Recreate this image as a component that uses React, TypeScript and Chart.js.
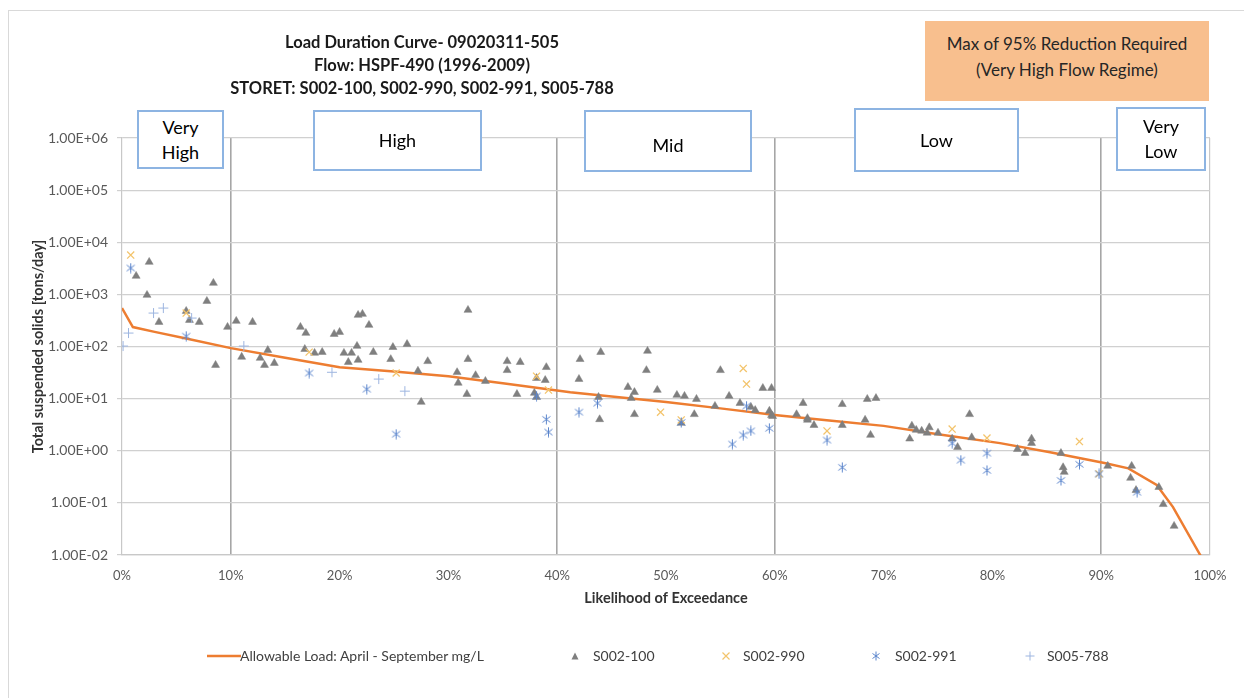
import React, { useEffect, useRef } from "react";
import { Chart, registerables } from "chart.js";

Chart.register(...registerables);

const FONT = "Lato, 'Open Sans', 'DejaVu Sans', sans-serif";

// ---------- Text ----------
const titleLines = [
  "Load Duration Curve- 09020311-505",
  "Flow: HSPF-490 (1996-2009)",
  "STORET: S002-100, S002-990, S002-991, S005-788",
];
const noteLines = ["Max of 95% Reduction Required", "(Very High Flow Regime)"];
const xAxisTitle = "Likelihood of Exceedance";
const yAxisTitle = "Total suspended solids [tons/day]";
const seriesNames = [
  "Allowable Load: April - September mg/L",
  "S002-100",
  "S002-990",
  "S002-991",
  "S005-788",
];

// ---------- Ticks ----------
const xTickValues = [0, 10, 20, 30, 40, 50, 60, 70, 80, 90, 100];
const yTickValues = [1e-2, 1e-1, 1, 1e1, 1e2, 1e3, 1e4, 1e5, 1e6];
const zoneBounds = [10, 40, 60, 90];

// ---------- Allowable load curve ----------
const lineX = [0, 1.0, 3, 6, 10, 15, 20, 25, 30, 35, 41.2, 45, 50, 55, 60.2, 65, 70, 75, 80.7, 85.3, 90.3, 92.5, 95.1, 96.6, 99.1, 99.5];
const lineY = [546, 236, 191, 141, 93, 61, 40, 33, 27, 19.8, 13.3, 11.0, 8.6, 6.5, 4.8, 3.8, 3.0, 2.08, 1.4, 0.94, 0.58, 0.46, 0.22, 0.083, 0.01, 0.007];

// ---------- S002-100 (triangles) ----------
const s100X = [
  1.3, 2.5, 2.3, 3.4, 5.9, 6.2, 7.1, 7.8, 8.4, 8.6, 9.7, 10.5, 11.0, 12.0, 12.7, 13.1, 13.4, 14.0,
  16.4, 16.9, 16.8, 17.7, 18.4, 19.5, 20.0, 20.4, 20.8, 21.1, 21.6, 21.7, 21.7, 22.1, 22.7, 23.1,
  24.7, 24.9, 26.2, 27.2, 27.5, 28.1, 30.8, 30.9, 31.7, 31.8, 31.8, 32.5, 33.4, 35.4, 35.4, 36.3,
  36.6, 37.9, 38.1, 38.1, 38.9, 39.0, 42.0, 42.1, 43.8, 43.9, 44.0, 46.5, 46.8, 47.1, 47.1, 48.2,
  48.3, 49.2, 51.0, 51.4, 51.7, 52.6, 52.8, 54.5, 55.0, 55.8, 56.8, 57.8, 58.2, 58.9, 59.5, 59.7,
  59.7, 59.8, 62.0, 62.6, 63.0, 63.0, 63.6, 66.2, 66.2, 68.3, 68.5, 68.8, 69.3, 72.4, 72.6, 73.0,
  73.5, 74.0, 74.2, 75.0, 76.3, 76.8, 77.9, 78.1, 82.3, 83.0, 83.6, 83.6, 86.3, 86.5, 86.6, 90.6,
  92.7, 92.8, 93.2, 95.3, 95.7, 96.7,
];
const s100Y = [
  2250, 4170, 970, 294, 478, 321, 294, 743, 1650, 44, 236, 308, 63, 294, 60, 44, 85, 48,
  236, 181, 89, 75, 78, 173, 189, 75, 50, 75, 102, 401, 55, 419, 258, 78,
  57, 97, 111, 34, 8.6, 52, 32, 20, 12.2, 500, 57, 28, 21.7, 52, 35, 12.2,
  50, 12.8, 10.7, 24.7, 22.6, 40, 23.7, 57, 10.7, 4.0, 78, 16.6, 10.2, 13.3, 5.0, 35,
  82, 14.6, 11.7, 3.4, 11.2, 5.0, 9.8, 7.2, 35, 11.2, 8.2, 6.9, 6.0, 15.9, 5.8, 15.9,
  4.8, 4.6, 5.0, 8.2, 4.2, 3.9, 3.1, 7.8, 3.1, 3.9, 9.8, 2.0, 10.2, 1.7, 3.0, 2.5,
  2.4, 2.2, 2.8, 2.2, 1.7, 1.17, 5.0, 1.8, 1.07, 0.9, 1.7, 1.4, 0.9, 0.48, 0.39, 0.51,
  0.3, 0.51, 0.175, 0.2, 0.094, 0.036,
];

// ---------- S002-990 (x marks) ----------
const s990X = [0.8, 5.9, 17.2, 25.2, 38.1, 39.2, 57.1, 57.4, 49.5, 51.4, 64.8, 76.3, 79.5, 88.0, 89.8];
const s990Y = [5680, 438, 78, 31, 27, 14.6, 38, 19, 5.5, 3.9, 2.4, 2.6, 1.75, 1.5, 0.36];

// ---------- S002-991 (asterisks) ----------
const s991X = [
  0.8, 5.9, 17.2, 22.5, 25.2, 38.1, 39.0, 39.2, 42.0, 43.7, 51.4, 56.1, 57.1, 57.8, 59.5, 57.4,
  64.8, 66.2, 76.3, 77.1, 79.5, 79.5, 86.3, 88.0, 89.8, 93.3,
];
const s991Y = [
  3200, 158, 31, 15.2, 2.08, 11.2, 4.0, 2.28, 5.5, 8.2, 3.5, 1.34, 2.0, 2.4, 2.7, 7.2,
  1.6, 0.48, 1.4, 0.66, 0.9, 0.42, 0.27, 0.55, 0.36, 0.16,
];

// ---------- S005-788 (plus marks) ----------
const s788X = [0.1, 0.6, 2.9, 3.8, 6.4, 11.2, 19.3, 23.6, 26.0];
const s788Y = [102, 181, 438, 546, 351, 102, 32, 23.7, 13.9];

// ---------- Colours ----------
const lineColor = "#ED7D31";
const s100Color = "#7F7F7F";
const s990Color = "#F3C46C";
const s991Color = "#5B85CC";
const s788Color = "#9DB5E0";

const zones = [
  { lines: ["Very", "High"], left: 128, top: 99, width: 87, height: 59, shift: 0 },
  { lines: ["High"], left: 304, top: 99, width: 169, height: 61, shift: 0 },
  { lines: ["Mid"], left: 575, top: 99, width: 168, height: 62, shift: 8 },
  { lines: ["Low"], left: 845, top: 97, width: 165, height: 64, shift: 0 },
  { lines: ["Very", "Low"], left: 1107, top: 96, width: 90, height: 64, shift: 0 },
];

function fmtSci(v: number) {
  const [m, e] = v.toExponential(2).split("e");
  const n = parseInt(e, 10);
  return m + "E" + (n < 0 ? "-" : "+") + String(Math.abs(n)).padStart(2, "0");
}

function LegendSymbol({ kind }: { kind: string }) {
  if (kind === "line")
    return (
      <svg width="34" height="10" style={{ display: "block" }}>
        <line x1="0" y1="5" x2="34" y2="5" stroke={lineColor} strokeWidth="2.5" />
      </svg>
    );
  if (kind === "tri")
    return (
      <svg width="10" height="10" style={{ display: "block" }}>
        <polygon points="5,1.5 8.5,8.5 1.5,8.5" fill={s100Color} />
      </svg>
    );
  if (kind === "x")
    return (
      <svg width="10" height="10" style={{ display: "block" }}>
        <path d="M1.5 1.5 L8.5 8.5 M8.5 1.5 L1.5 8.5" stroke={s990Color} strokeWidth="1.2" />
      </svg>
    );
  if (kind === "ast")
    return (
      <svg width="10" height="10" style={{ display: "block" }}>
        <path d="M5 0.5 L5 9.5 M1.5 2.5 L8.5 7.5 M8.5 2.5 L1.5 7.5" stroke={s991Color} strokeWidth="1" />
      </svg>
    );
  return (
    <svg width="10" height="10" style={{ display: "block" }}>
      <path d="M5 0.5 L5 9.5 M0.5 5 L9.5 5" stroke={s788Color} strokeWidth="1" />
    </svg>
  );
}

const legendItems = [
  { kind: "line", symLeft: 198, symW: 33, textLeft: 231 },
  { kind: "tri", symLeft: 561, symW: 10, textLeft: 584 },
  { kind: "x", symLeft: 712, symW: 10, textLeft: 734 },
  { kind: "ast", symLeft: 862, symW: 10, textLeft: 886 },
  { kind: "plus", symLeft: 1016, symW: 10, textLeft: 1038 },
];

export default function App() {
  const ref = useRef<HTMLCanvasElement>(null);

  useEffect(() => {
    const canvas = ref.current;
    if (!canvas) return;

    const star = document.createElement("canvas");
    star.width = 11;
    star.height = 11;
    const g = star.getContext("2d");
    if (g) {
      g.strokeStyle = s991Color;
      g.lineWidth = 1;
      g.beginPath();
      g.moveTo(5.5, 0.5);
      g.lineTo(5.5, 10.5);
      g.moveTo(1.5, 2.5);
      g.lineTo(9.5, 8.5);
      g.moveTo(9.5, 2.5);
      g.lineTo(1.5, 8.5);
      g.stroke();
    }

    const toXY = (xs: number[], ys: number[]) => xs.map((x, i) => ({ x, y: ys[i] }));

    const chart = new Chart(canvas, {
      type: "scatter",
      data: {
        datasets: [
          {
            label: seriesNames[1],
            data: toXY(s100X, s100Y),
            pointStyle: "triangle",
            pointRadius: 4.6,
            backgroundColor: s100Color,
            borderColor: s100Color,
            borderWidth: 0.5,
            order: 4,
          },
          {
            label: seriesNames[2],
            data: toXY(s990X, s990Y),
            pointStyle: "crossRot",
            pointRadius: 5,
            borderColor: s990Color,
            borderWidth: 1.3,
            order: 3,
          },
          {
            label: seriesNames[3],
            data: toXY(s991X, s991Y),
            pointStyle: star as any,
            pointRadius: 5,
            borderColor: s991Color,
            order: 2,
          },
          {
            label: seriesNames[4],
            data: toXY(s788X, s788Y),
            pointStyle: "cross",
            pointRadius: 5,
            borderColor: s788Color,
            borderWidth: 1,
            order: 1,
          },
          {
            label: seriesNames[0],
            data: toXY(lineX, lineY),
            showLine: true,
            pointRadius: 0,
            borderColor: lineColor,
            borderWidth: 2.5,
            order: 9,
          } as any,
        ],
      },
      options: {
        responsive: false,
        animation: false,
        events: [],
        layout: { padding: { left: 18, right: 34, top: 127, bottom: 83 } },
        plugins: {
          legend: { display: false },
          tooltip: { enabled: false },
          title: { display: false },
        },
        scales: {
          x: {
            type: "linear",
            min: 0,
            max: 100,
            afterBuildTicks: (s: any) => {
              s.ticks = xTickValues.map((v) => ({ value: v }));
            },
            afterFit: (s: any) => {
              s.height = 60;
            },
            ticks: {
              callback: (v: any) => v + "%",
              padding: 13,
              color: "#595959",
              font: { family: FONT, size: 13 },
              maxRotation: 0,
              autoSkip: false,
            },
            grid: {
              drawTicks: false,
              color: (c: any) => {
                const v = c.tick ? c.tick.value : -1;
                if (zoneBounds.includes(v)) return "#A6A6A6";
                if (v === 100) return "#C8C8C8";
                return "rgba(0,0,0,0)";
              },
              lineWidth: (c: any) => {
                const v = c.tick ? c.tick.value : -1;
                return zoneBounds.includes(v) ? 1.6 : 1.2;
              },
            },
            border: { display: true, color: "#C8C8C8", width: 1.2 },
            title: {
              display: true,
              text: xAxisTitle,
              color: "#333333",
              font: { family: FONT, size: 14.5, weight: "bold" },
              padding: { top: 0, bottom: 8 },
            },
          },
          y: {
            type: "logarithmic",
            min: 0.01,
            max: 1e6,
            afterBuildTicks: (s: any) => {
              s.ticks = yTickValues.map((v) => ({ value: v }));
            },
            afterFit: (s: any) => {
              s.width = 95;
            },
            ticks: {
              callback: (v: any) => fmtSci(Number(v)),
              padding: 9,
              color: "#595959",
              font: { family: FONT, size: 14 },
              autoSkip: false,
            },
            grid: {
              color: "#D0D0D0",
              lineWidth: 1.2,
              drawTicks: true,
              tickLength: 5,
            },
            border: { display: true, color: "#C8C8C8", width: 1.2 },
            title: {
              display: true,
              text: yAxisTitle,
              color: "#333333",
              font: { family: FONT, size: 14.5, weight: "bold" },
              padding: { top: 3, bottom: 3 },
            },
          },
        },
      } as any,
    });

    return () => chart.destroy();
  }, []);

  return (
    <div
      style={{
        position: "absolute",
        left: 8,
        top: 10,
        width: 1235,
        height: 687,
        borderTop: "1.5px solid #D9D9D9",
        borderLeft: "1.5px solid #D9D9D9",
        background: "#fff",
        fontFamily: FONT,
        overflow: "hidden",
      }}
    >
      <canvas
        ref={ref}
        width={1235}
        height={687}
        style={{ position: "absolute", left: 0, top: 0, width: 1235, height: 687 }}
      />
      {titleLines.map((t, i) => (
        <div
          key={t}
          style={{
            position: "absolute",
            left: 113,
            width: 600,
            top: 19 + i * 23,
            height: 24,
            lineHeight: "24px",
            textAlign: "center",
            fontWeight: "bold",
            fontSize: 16.5,
            color: "#1a1a1a",
          }}
        >
          {t}
        </div>
      ))}
      <div
        style={{
          position: "absolute",
          left: 916,
          top: 10,
          width: 284,
          height: 80,
          background: "#F8BF8E",
        }}
      >
        {noteLines.map((t, i) => (
          <div
            key={t}
            style={{
              position: "absolute",
              left: 0,
              width: 284,
              top: 11 + i * 26,
              height: 24,
              lineHeight: "24px",
              textAlign: "center",
              fontSize: 17,
              color: "#262626",
            }}
          >
            {t}
          </div>
        ))}
      </div>
      {zones.map((z) => (
        <div
          key={z.lines.join(" ")}
          style={{
            position: "absolute",
            left: z.left,
            top: z.top,
            width: z.width,
            height: z.height,
            boxSizing: "border-box",
            border: "2px solid #8DB4E2",
            background: "#fff",
            display: "flex",
            flexDirection: "column",
            justifyContent: "center",
            alignItems: "center",
            fontSize: 18,
            lineHeight: "25px",
            color: "#000",
            paddingTop: z.shift,
          }}
        >
          {z.lines.map((l) => (
            <div key={l}>{l}</div>
          ))}
        </div>
      ))}
      {legendItems.map((it, i) => (
        <React.Fragment key={seriesNames[i]}>
          <div
            style={{
              position: "absolute",
              left: it.symLeft,
              top: 640,
              width: it.symW,
              height: 10,
            }}
          >
            <LegendSymbol kind={it.kind} />
          </div>
          <div
            style={{
              position: "absolute",
              left: it.textLeft,
              top: 635,
              height: 20,
              lineHeight: "20px",
              fontSize: 14,
              color: "#404040",
              whiteSpace: "nowrap",
            }}
          >
            {seriesNames[i]}
          </div>
        </React.Fragment>
      ))}
    </div>
  );
}
